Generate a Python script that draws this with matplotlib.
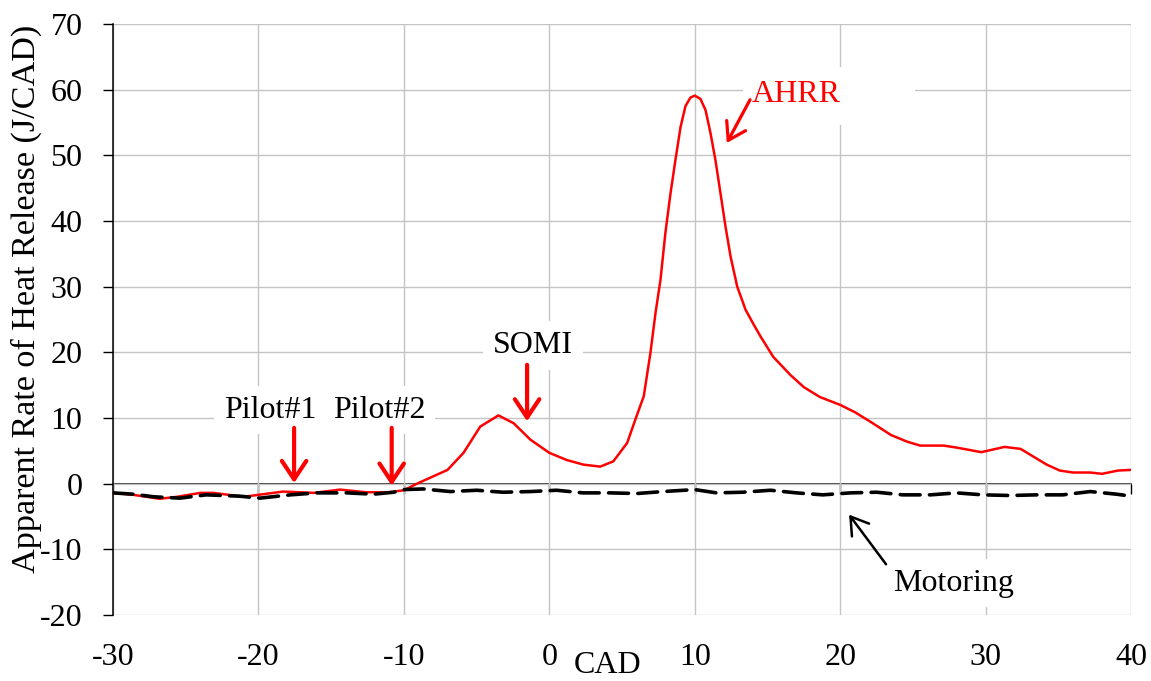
import matplotlib
matplotlib.use("Agg")
import matplotlib.pyplot as plt
from matplotlib.patches import Rectangle

plt.rcParams['font.family'] = ['Liberation Serif', 'DejaVu Serif']
plt.rcParams['axes.unicode_minus'] = False

# Apparent heat release rate (fired cycle)
ahrr_cad = [-30, -28.6, -26.8, -25.6, -24, -23.1, -21, -20, -18.3, -16.2, -14.4,
            -12.6, -11, -10, -9.1, -8.2, -7, -5.9, -4.75, -3.5, -2.45, -1.3, 0,
            1.2, 2.35, 3.5, 4.4, 5.35, 6.0, 6.49, 6.95, 7.3, 7.64, 7.98, 8.33, 8.67,
            9.02, 9.36, 9.7, 10.0, 10.39, 10.74, 11.08, 11.42, 11.77, 12.11, 12.46,
            12.92, 13.49, 14.06, 14.5, 15.4, 16.6, 17.5, 18.6, 20,
            21, 22.1, 23.5, 24.6, 25.5, 27.1, 28, 29.7, 31.3, 32.4, 33.3, 34.2,
            35.1, 36, 37.2, 38, 39.1, 40]
ahrr = [-1.4, -1.7, -2.3, -2.0, -1.4, -1.4, -2.0, -1.7, -1.2, -1.4, -0.9,
        -1.3, -1.3, -1.0, 0.0, 0.9, 2.1, 4.7, 8.7, 10.4, 9.2, 6.7, 4.7,
        3.6, 2.9, 2.6, 3.4, 6.2, 10.3, 13.3, 19.9, 26.0, 31.0, 38.2, 44.2, 49.3,
        54.3, 57.5, 58.8, 59.1, 58.6, 56.9, 53.4, 49.3, 44.2, 39.2, 34.6,
        30.0, 26.5, 24.2, 22.5, 19.3, 16.5, 14.7, 13.2, 12.0,
        10.9, 9.4, 7.4, 6.4, 5.8, 5.8, 5.5, 4.8, 5.6, 5.3, 4.1, 2.9,
        2.0, 1.7, 1.7, 1.5, 2.0, 2.1]

# Motoring trace
mot_cad = [-30, -28.6, -27.2, -25.4, -23.6, -21.3, -19.9, -17.8, -16.0, -13.9,
           -12.1, -10.7, -10.0, -8.7, -6.8, -5.0, -3.2, -1.3, 0.5, 2.3, 4.2, 6.0,
           7.8, 10.0, 11.5, 13.3, 15.2, 17.0, 18.8, 20.7, 22.5, 24.3, 26.2, 28.0,
           29.8, 31.7, 33.5, 35.3, 37.2, 39.0, 40.0]
motoring = [-1.4, -1.6, -2.0, -2.2, -1.7, -1.9, -2.2, -1.7, -1.4, -1.4,
            -1.6, -1.3, -0.9, -0.8, -1.2, -1.0, -1.3, -1.2, -1.0, -1.4, -1.4, -1.5,
            -1.2, -0.9, -1.4, -1.3, -1.0, -1.4, -1.7, -1.4, -1.3, -1.7, -1.7, -1.4,
            -1.7, -1.8, -1.7, -1.7, -1.2, -1.6, -1.9]

x_ticks = [-30, -20, -10, 0, 10, 20, 30, 40]
y_ticks = [-20, -10, 0, 10, 20, 30, 40, 50, 60, 70]

FS = 23
GRID = '#c4c4c4'

fig = plt.figure(figsize=(11.51, 6.81), dpi=100)
ax = fig.add_axes([0.0982, 0.0969, 0.8845, 0.8678])

ax.set_xlim(-30, 40)
ax.set_ylim(-20, 70)
ax.set_xticks(x_ticks)
ax.set_yticks(y_ticks)
ax.grid(True, color=GRID, lw=1.0, zorder=0)
ax.set_axisbelow(True)

for s in ('top', 'right', 'bottom'):
    ax.spines[s].set_visible(False)
ax.spines['left'].set_linewidth(1.1)

ax.tick_params(axis='y', direction='out', length=7, width=1.0, pad=15, labelsize=FS)
ax.tick_params(axis='x', length=0, pad=20, labelsize=FS)

# zero line with its own downward ticks
zero_ax = ax.secondary_xaxis(0, transform=ax.transData)
zero_ax.set_xticks(x_ticks)
zero_ax.spines['bottom'].set_linewidth(1.1)
zero_ax.tick_params(axis='x', direction='out', length=7, width=1.0, labelbottom=False)

ax.plot(ahrr_cad, ahrr, color='#ff0000', lw=1.8, zorder=3)
ax.plot(mot_cad, motoring, color='black', lw=2.6, dashes=(5.5, 2.6),
        dash_capstyle='round', zorder=4)

ax.set_ylabel('Apparent Rate of Heat Release (J/CAD)', fontsize=24.6)
ax.yaxis.set_label_coords(-0.070, 0.535)
fig.text(608 / 1151, 8 / 681, 'CAD', fontsize=FS, ha='center', va='baseline')

box = dict(boxstyle='square,pad=0.3', fc='white', ec='none')

def arrow(start, end, color, lw, hl=0.6, hw=0.4):
    ax.annotate('', xy=end, xytext=start, zorder=6,
                arrowprops=dict(arrowstyle=f'->,head_length={hl},head_width={hw}',
                                color=color, lw=lw, shrinkA=0, shrinkB=0,
                                mutation_scale=22))

# Pilot injections
ax.text(-19.2, 10.05, 'Pilot#1', fontsize=FS, ha='center', va='baseline', bbox=box, zorder=5)
ax.text(-11.67, 10.05, 'Pilot#2', fontsize=FS, ha='center', va='baseline', bbox=box, zorder=5)
arrow((-17.55, 8.5), (-17.55, 0.1), '#ff0000', 3.0)
arrow((-10.84, 8.5), (-10.84, -0.3), '#ff0000', 3.0)

# Start of main injection
ax.text(-1.12, 19.9, 'SOMI', fontsize=FS, ha='center', va='baseline', bbox=box, zorder=5)
arrow((-1.53, 18.1), (-1.53, 9.5), '#ff0000', 3.0)

# AHRR label
ax.add_patch(Rectangle((13.31, 54.67), 11.83, 8.83, fc='white', ec='none', zorder=5))
ax.text(13.94, 58.17, 'AHRR', fontsize=FS, color='#ff0000', ha='left', va='baseline', zorder=5)
arrow((13.80, 58.47), (12.20, 51.88), '#ff0000', 2.3, hl=0.55, hw=0.35)

# Motoring label
ax.text(23.63, -16.3, 'Motoring', fontsize=FS, ha='left', va='baseline', bbox=box, zorder=5)
arrow((23.15, -12.27), (20.61, -4.72), 'black', 1.8, hl=0.55, hw=0.35)

fig.savefig('out.png', dpi=100)
